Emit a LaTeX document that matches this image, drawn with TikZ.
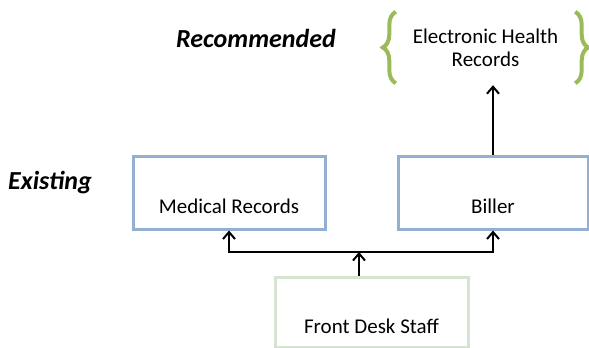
\documentclass[tikz,border=0pt]{standalone}
\usepackage{fontspec}
\setmainfont{Carlito}
\usetikzlibrary{arrows.meta}
\usetikzlibrary{decorations.pathreplacing}
\usetikzlibrary{positioning}
\definecolor{mblue}{rgb}{0.58, 0.69, 0.82}
\definecolor{mpale}{rgb}{0.84, 0.89, 0.82}
\definecolor{mgreen}{rgb}{0.61, 0.73, 0.35}
\tikzset{unit/.style = {draw = mblue, line width = 3pt, inner sep = 0pt, minimum width = 192pt, minimum height = 73pt, text height = 57pt, text depth = 16pt, font = \fontsize{21}{25}\selectfont}}
\tikzset{heading/.style = {font = \fontsize{26}{30}\selectfont\bfseries\itshape}}
\tikzset{flow/.style = {line width = 2pt, -{Straight Barb[length=7pt, width=12pt]}}}
\tikzset{curly/.style = {mgreen, line width = 4pt, decorate, decoration = {brace, amplitude = 13pt}}}

\begin{document}
\begin{tikzpicture}[x=1pt, y=-1pt]
      \useasboundingbox (0, 0) rectangle (589, 348);

      \node [heading] (recommended) at (256, 38) {Recommended};
      \node [heading] (existing) at (50, 183) {Existing};

      \node [unit] (medrec) at (229, 192.5) {Medical Records};
      \node [unit, minimum width = 190pt] (biller) at (493, 192.5) {Biller};
      \node [unit, draw = mpale, minimum width = 193pt, minimum height = 70pt, text height = 56pt, text depth = 14pt] (frontdesk) at (371.5, 312) {Front Desk Staff};

      \node [inner sep = 0pt, minimum width = 179pt, minimum height = 71pt, align = center, font = \fontsize{21}{23}\selectfont] (ehr) at (485.5, 47.5) {Electronic Health\\Records};
      \draw [curly] (ehr.south west) -- (ehr.north west);
      \draw [curly] (ehr.north east) -- (ehr.south east);

      \coordinate (split) at (359, 252);
      \draw [flow] (split |- frontdesk.north) -- (split);
      \draw [flow] (split) -| (medrec.south);
      \draw [flow] (split) -| (biller.south);
      \draw [flow, shorten > = 2pt] (biller.north) -- (biller.north |- ehr.south);
    \end{tikzpicture}
\end{document}
